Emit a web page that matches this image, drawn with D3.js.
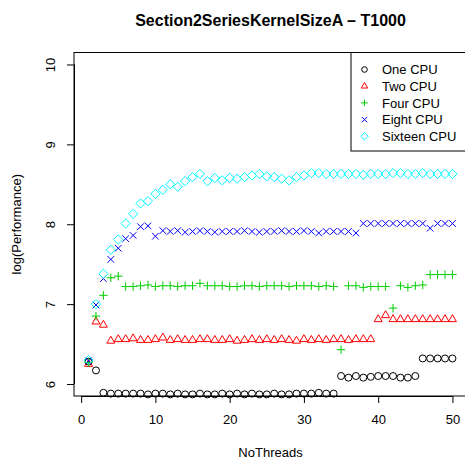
<!DOCTYPE html>
<html>
<head>
<meta charset="utf-8">
<script src="https://cdn.jsdelivr.net/npm/d3@7"></script>
<style>
  body { margin: 0; background: #fff; }
  text { font-family: "Liberation Sans", Arial, sans-serif; }
</style>
</head>
<body>
<div id="chart"></div>
<script>
let width = 465;
let height = 462;

// data
let threads = d3.range(1, 51);
let seriesNames = ["One CPU", "Two CPU", "Four CPU", "Eight CPU", "Sixteen CPU"];
let seriesColors = ["#000000", "#ff0000", "#00cd00", "#0000ff", "#00ffff"];
let seriesShapes = ["circle", "triangle", "plus", "cross", "diamond"];
let xTicks = [0, 10, 20, 30, 40, 50];
let yTicks = [6, 7, 8, 9, 10];

let oneCPU = [6.28,6.17,5.89,5.88,5.88,5.88,5.88,5.88,5.87,5.88,
              5.88,5.87,5.88,5.87,5.87,5.88,5.87,5.87,5.88,5.87,
              5.88,5.87,5.88,5.87,5.87,5.88,5.87,5.87,5.88,5.88,
              5.88,5.89,5.88,5.88,6.10,6.08,6.10,6.08,6.09,6.10,
              6.10,6.10,6.08,6.08,6.10,6.32,6.32,6.32,6.32,6.32];
let twoCPU = [6.25,6.78,6.74,6.54,6.56,6.56,6.57,6.55,6.55,6.56,
              6.58,6.55,6.56,6.55,6.55,6.56,6.56,6.55,6.55,6.56,
              6.54,6.55,6.56,6.55,6.56,6.55,6.56,6.55,6.54,6.56,
              6.55,6.56,6.55,6.56,6.56,6.55,6.56,6.56,6.56,6.81,
              6.86,6.81,6.81,6.81,6.81,6.81,6.81,6.81,6.81,6.81];
let fourCPU = [6.27,6.85,7.11,7.33,7.35,7.22,7.22,7.23,7.24,7.22,
               7.23,7.23,7.22,7.23,7.23,7.26,7.23,7.23,7.23,7.22,
               7.22,7.23,7.23,7.22,7.23,7.23,7.23,7.22,7.23,7.23,
               7.23,7.22,7.23,7.22,6.43,7.23,7.23,7.21,7.22,7.22,
               7.22,6.95,7.23,7.21,7.23,7.24,7.37,7.37,7.37,7.37];
let eightCPU = [6.29,6.99,7.32,7.56,7.70,7.82,7.86,7.97,7.98,7.85,
                7.92,7.91,7.92,7.90,7.91,7.92,7.91,7.90,7.91,7.91,
                7.91,7.92,7.91,7.90,7.91,7.91,7.92,7.91,7.91,7.92,
                7.91,7.89,7.91,7.91,7.91,7.91,7.89,8.01,8.01,8.01,
                8.01,8.01,8.01,8.01,8.01,8.01,7.95,8.01,8.01,8.01];
let sixteenCPU = [6.30,7.00,7.38,7.68,7.81,8.01,8.13,8.26,8.29,8.38,
                  8.43,8.50,8.47,8.54,8.59,8.63,8.54,8.58,8.55,8.58,
                  8.57,8.59,8.61,8.63,8.60,8.59,8.57,8.55,8.59,8.61,
                  8.64,8.64,8.63,8.63,8.63,8.63,8.63,8.62,8.63,8.63,
                  8.63,8.64,8.64,8.63,8.63,8.64,8.63,8.63,8.63,8.63];

let allSeries = [oneCPU, twoCPU, fourCPU, eightCPU, sixteenCPU];

// plot box
let boxLeft = 74, boxTop = 52.5, boxRight = 467, boxBottom = 396;

let x = d3.scaleLinear().domain([-0.96, 51.96]).range([boxLeft, boxRight]);
let y = d3.scaleLinear().domain([5.85, 10.15]).range([boxBottom, boxTop]);

let svg = d3.select("#chart").append("svg")
            .attr("width", width)
            .attr("height", height);

// R style pch symbols
function shapePath(shape, s) {
    let p = d3.path();
    if (shape == "circle") {
        p.moveTo(3.5 * s, 0);
        p.arc(0, 0, 3.5 * s, 0, 2 * Math.PI);
    } else if (shape == "triangle") {
        let r = 4.6 * s;
        p.moveTo(0, -r);
        p.lineTo(r * 0.866, r * 0.5);
        p.lineTo(-r * 0.866, r * 0.5);
        p.closePath();
    } else if (shape == "plus") {
        let r = 4.2 * s;
        p.moveTo(-r, 0); p.lineTo(r, 0);
        p.moveTo(0, -r); p.lineTo(0, r);
    } else if (shape == "cross") {
        let r = 3.3 * s;
        p.moveTo(-r, -r); p.lineTo(r, r);
        p.moveTo(-r, r); p.lineTo(r, -r);
    } else {
        let r = 4.6 * s;
        p.moveTo(0, -r); p.lineTo(r, 0); p.lineTo(0, r); p.lineTo(-r, 0);
        p.closePath();
    }
    return p.toString();
}

// points
allSeries.forEach(function(vals, k) {
    svg.append("g").selectAll("path")
       .data(vals)
       .enter().append("path")
       .attr("transform", (d, i) => "translate(" + x(threads[i]) + "," + y(d) + ")")
       .attr("d", shapePath(seriesShapes[k], 1))
       .attr("fill", "none")
       .attr("stroke", seriesColors[k])
       .attr("stroke-width", 1);
});

// box
svg.append("rect")
   .attr("x", boxLeft).attr("y", boxTop)
   .attr("width", boxRight - boxLeft).attr("height", boxBottom - boxTop)
   .attr("fill", "none").attr("stroke", "#000").attr("stroke-width", 1);

// axes
let xAxis = d3.axisBottom(x).tickValues(xTicks).tickSize(7).tickPadding(12);
let gx = svg.append("g").attr("transform", "translate(0," + boxBottom + ")").call(xAxis);
gx.select(".domain").attr("d", "M" + x(0) + ",0.5H" + x(50));
gx.selectAll("text").attr("font-size", 13).attr("font-family", "Liberation Sans, Arial, sans-serif").attr("fill", "#000");

let yAxis = d3.axisLeft(y).tickValues(yTicks).tickSize(7).tickFormat(d3.format("d"));
let gy = svg.append("g").attr("transform", "translate(" + boxLeft + ",0)").call(yAxis);
gy.select(".domain").attr("d", "M0.5," + y(6) + "V" + y(10));
gy.selectAll("text")
  .attr("font-size", 13)
  .attr("font-family", "Liberation Sans, Arial, sans-serif")
  .attr("fill", "#000")
  .attr("x", 0)
  .attr("y", 0)
  .attr("text-anchor", "middle")
  .attr("transform", "translate(-24,0) rotate(-90)")
  .attr("dy", "0.35em");

// titles
svg.append("text")
   .attr("x", (boxLeft + boxRight) / 2).attr("y", 26)
   .attr("text-anchor", "middle")
   .attr("font-size", 16).attr("font-weight", "bold")
   .text("Section2SeriesKernelSizeA \u2013 T1000");

svg.append("text")
   .attr("x", (boxLeft + boxRight) / 2).attr("y", 457)
   .attr("text-anchor", "middle")
   .attr("font-size", 13)
   .text("NoThreads");

svg.append("text")
   .attr("transform", "translate(21," + (boxTop + boxBottom) / 2 + ") rotate(-90)")
   .attr("text-anchor", "middle")
   .attr("font-size", 13)
   .text("log(Performance)");

// legend
let legendX = 351, legendBottom = 151;
svg.append("rect")
   .attr("x", legendX).attr("y", boxTop)
   .attr("width", boxRight - legendX).attr("height", legendBottom - boxTop)
   .attr("fill", "#fff").attr("stroke", "#000").attr("stroke-width", 1);

let legend = svg.append("g").selectAll("g")
   .data(seriesNames)
   .enter().append("g")
   .attr("transform", (d, i) => "translate(0," + (69.5 + i * 16.7) + ")");

legend.append("path")
   .attr("transform", "translate(364.5,0)")
   .attr("d", (d, i) => shapePath(seriesShapes[i], 0.8))
   .attr("fill", "none")
   .attr("stroke", (d, i) => seriesColors[i]);

legend.append("text")
   .attr("x", 382).attr("dy", "0.36em")
   .attr("font-size", 13)
   .text(d => d);
</script>
</body>
</html>
